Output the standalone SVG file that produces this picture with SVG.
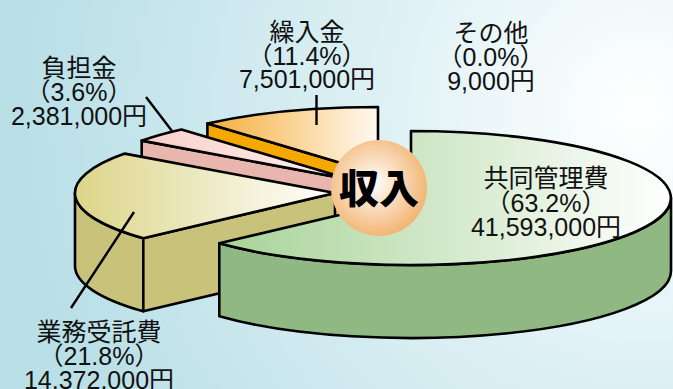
<svg xmlns="http://www.w3.org/2000/svg" width="673" height="389" viewBox="0 0 673 389">
<style>
.o{stroke:#000;stroke-width:2.6;stroke-linejoin:round}
.ln{stroke:#000;stroke-width:2.4;fill:none}
.t{font-family:"Liberation Sans","Noto Sans CJK JP",sans-serif;font-size:25px;fill:#111;text-anchor:middle}
</style>
<defs>
<radialGradient id="bg" gradientUnits="userSpaceOnUse" cx="640" cy="110" r="620">
<stop offset="0" stop-color="#ffffff"/>
<stop offset="0.45" stop-color="#dcf0f4"/>
<stop offset="1" stop-color="#b9dfe7"/>
</radialGradient>
<linearGradient id="gOr" x1="0" y1="0" x2="1" y2="0">
<stop offset="0" stop-color="#f5ae3c"/>
<stop offset="1" stop-color="#fff9f0"/>
</linearGradient>
<linearGradient id="gPk" x1="0" y1="0" x2="1" y2="0">
<stop offset="0" stop-color="#f8cfca"/>
<stop offset="1" stop-color="#fff2f0"/>
</linearGradient>
<linearGradient id="gKh" x1="0" y1="0" x2="1" y2="0">
<stop offset="0" stop-color="#dcd589"/>
<stop offset="1" stop-color="#ffffff"/>
</linearGradient>
<linearGradient id="gGr" x1="0" y1="0" x2="1" y2="0">
<stop offset="0" stop-color="#a7d397"/>
<stop offset="1" stop-color="#ffffff"/>
</linearGradient>
<radialGradient id="gC" cx="0.45" cy="0.45" r="0.55">
<stop offset="0" stop-color="#ffffff"/>
<stop offset="1" stop-color="#f3b676"/>
</radialGradient>
</defs>
<rect width="673" height="389" fill="url(#bg)"/>
<g id="slice-kurikomikin">
<path class="o" fill="#f5a800" d="M207.4,123.4 L378,174 L378,247 L207.4,196.4 Z"/>
<path class="o" fill="url(#gOr)" d="M378,174 L207.4,123.4 A260,67 0 0 1 378,107 Z"/>
</g>
<g id="slice-futankin">
<path class="o" fill="#e8b5af" d="M141.7,140.6 L352,180 L352,253 L141.7,213.6 Z"/>
<path class="o" fill="url(#gPk)" d="M352,180 L141.7,140.6 A260,67 0 0 1 181.4,129.4 Z"/>
</g>
<g id="slice-gyomu">
<path class="o" fill="#c9c27a" d="M143.3,238.3 A260,67 0 0 1 75,193 L75,266 A260,67 0 0 0 143.3,311.3 Z"/>
<path class="o" fill="#c9c27a" d="M143.3,238.3 L335,193 L335,266 L143.3,311.3 Z"/>
<path class="o" fill="url(#gKh)" d="M335,193 L143.3,238.3 A260,67 0 0 1 124.7,153.6 Z"/>
</g>
<g id="slice-kyodo">
<path class="o" fill="#8fb883" d="M671,198 A260,67 0 0 1 219.3,243.3 L219.3,316.3 A260,67 0 0 0 671,271 Z"/>
<path class="o" fill="url(#gGr)" d="M411,198 L411,131 A260,67 0 1 1 219.3,243.3 Z"/>
</g>
<g id="center">
<circle cx="379" cy="188" r="48" fill="url(#gC)"/>
<text x="379" y="203" style="font-family:'Noto Sans CJK JP',sans-serif;font-size:40px;font-weight:900;text-anchor:middle;fill:#000">収入</text>
</g>
<g id="connectors">
<line class="ln" x1="146" y1="97" x2="172" y2="131"/>
<line class="ln" x1="316.5" y1="95" x2="316.5" y2="125"/>
<line class="ln" x1="134" y1="212" x2="71" y2="308"/>
</g>
<g id="label-futankin" class="t">
<text x="79" y="77">負担金</text>
<text x="79" y="101">（3.6%）</text>
<text x="79" y="125">2,381,000円</text>
</g>
<g id="label-kurikomikin" class="t">
<text x="307" y="41">繰入金</text>
<text x="307" y="65">（11.4%）</text>
<text x="307" y="88">7,501,000円</text>
</g>
<g id="label-sonota" class="t">
<text x="491" y="42">その他</text>
<text x="491" y="66">（0.0%）</text>
<text x="491" y="90">9,000円</text>
</g>
<g id="label-kyodo" class="t">
<text x="546" y="187">共同管理費</text>
<text x="546" y="212">（63.2%）</text>
<text x="546" y="236">41,593,000円</text>
</g>
<g id="label-gyomu" class="t">
<text x="99" y="341">業務受託費</text>
<text x="99" y="365">（21.8%）</text>
<text x="99" y="389">14,372,000円</text>
</g>
</svg>
